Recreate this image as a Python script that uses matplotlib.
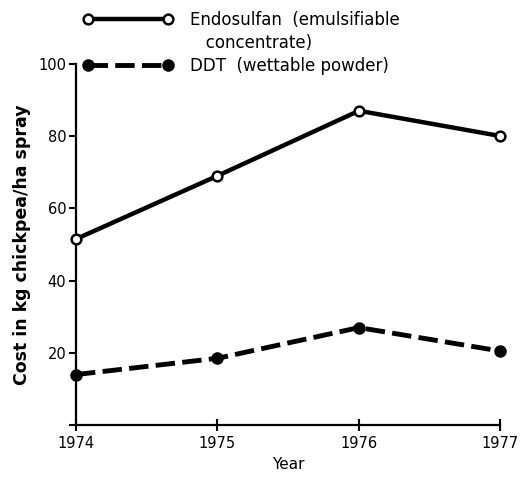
import matplotlib
matplotlib.use('Agg')
import matplotlib.pyplot as plt
from matplotlib.lines import Line2D

years = [1974, 1975, 1976, 1977]
endosulfan = [51.5, 69, 87, 80]
ddt = [14, 18.5, 27, 20.5]

plt.rcParams['font.family'] = 'DejaVu Sans'

fig = plt.figure(figsize=(5.24, 4.87), dpi=100)
ax = fig.add_axes([0.145, 0.127, 0.81, 0.742])

l1, = ax.plot(years, endosulfan, color='black', lw=3.2, marker='o',
              markersize=7, markerfacecolor='white', markeredgewidth=1.8,
              clip_on=False, zorder=3)
l2, = ax.plot(years, ddt, color='black', lw=3.5, marker='o', markersize=8,
              dashes=(4.0, 1.5), clip_on=False, zorder=3)

ax.set_xlim(1974, 1977)
ax.set_ylim(0, 100)
ax.set_xticks(years)
ax.set_yticks([0, 20, 40, 60, 80, 100])
ax.set_yticklabels(['', '20', '40', '60', '80', '100'])

for s in ['top', 'right']:
    ax.spines[s].set_visible(False)
for s in ['left', 'bottom']:
    ax.spines[s].set_linewidth(1.6)

ax.tick_params(axis='y', direction='out', length=5, width=1.5, labelsize=10.5, pad=2)
ax.tick_params(axis='x', direction='inout', length=8, width=1.5, labelsize=10.5, pad=4)

ax.set_xlabel('Year', fontsize=11, labelpad=4)
ax.set_ylabel('Cost in kg chickpea/ha spray', fontsize=12.5, fontweight='bold', labelpad=5)

blank = Line2D([], [], linestyle='none')
fig.legend([l1, blank, l2],
           ['Endosulfan  (emulsifiable', '   concentrate)', 'DDT  (wettable powder)'],
           loc='upper left', bbox_to_anchor=(0.138, 1.0), frameon=False,
           handlelength=5.4, handletextpad=1.0, numpoints=2, fontsize=12,
           labelspacing=0.3, borderpad=0.15)

fig.savefig('out.png', dpi=100)
